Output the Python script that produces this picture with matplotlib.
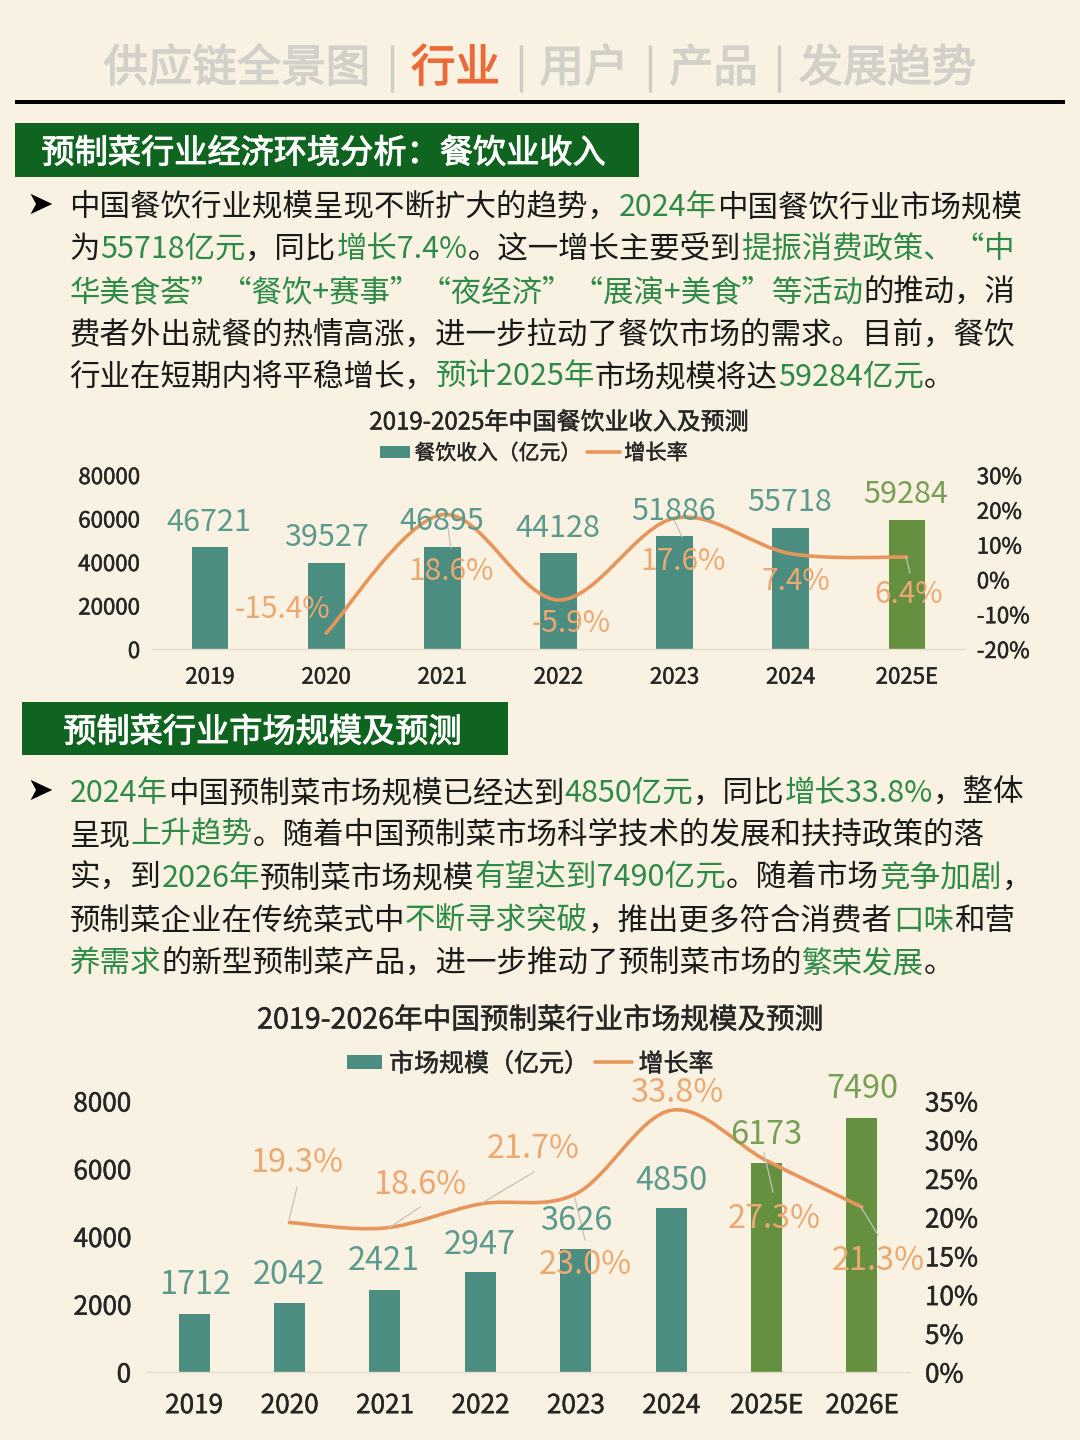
import matplotlib
matplotlib.use("Agg")
import matplotlib.pyplot as plt
import matplotlib.patheffects as pe
from matplotlib.font_manager import FontProperties
from matplotlib.patches import PathPatch, Rectangle
from matplotlib.path import Path

FONT = ['Noto Sans CJK SC', 'DejaVu Sans']
plt.rcParams['font.family'] = FONT
plt.rcParams['axes.unicode_minus'] = False

# ---------- data ----------
years_a = ['2019', '2020', '2021', '2022', '2023', '2024', '2025E']
revenue = [46721, 39527, 46895, 44128, 51886, 55718, 59284]
revenue_growth = [None, -15.4, 18.6, -5.9, 17.6, 7.4, 6.4]
left_ticks_a = [0, 20000, 40000, 60000, 80000]
right_ticks_a = [-20, -10, 0, 10, 20, 30]

years_b = ['2019', '2020', '2021', '2022', '2023', '2024', '2025E', '2026E']
market = [1712, 2042, 2421, 2947, 3626, 4850, 6173, 7490]
market_growth = [None, 19.3, 18.6, 21.7, 23.0, 33.8, 27.3, 21.3]
left_ticks_b = [0, 2000, 4000, 6000, 8000]
right_ticks_b = [0, 5, 10, 15, 20, 25, 30, 35]

BG = '#f9f2e2'
TEAL = '#4b8d80'
LEAF = '#64903f'
ORANGE = '#e7955a'
LBL_TEAL = '#5d9a8e'
LBL_LEAF = '#78a055'
LBL_ORANGE = '#eba871'
GREEN_TXT = '#2e8b47'
INK = '#1a1a1a'
DARK = '#262626'
HEADER = '#d3d0ca'
ACTIVE = '#ea6a38'
BAND = '#0f651f'

W, H = 1080, 1440
fig = plt.figure(figsize=(W / 100, H / 100), dpi=100, facecolor=BG)
renderer = fig.canvas.get_renderer()

overlay = fig.add_axes([0, 0, 1, 1], zorder=10)
overlay.set_xlim(0, W)
overlay.set_ylim(H, 0)
overlay.axis('off')
overlay.patch.set_alpha(0)


def heavy(artist, color, width):
    artist.set_path_effects([pe.withStroke(linewidth=width, foreground=color)])
    return artist


def ctext(x, y, s, color, size, stroke=0.0, dy=2.5):
    t = overlay.text(x, y + dy, s, color=color, fontsize=size, ha='center', va='center')
    if stroke:
        heavy(t, color, stroke)
    return t


def advance(s, size):
    fp = FontProperties(family=FONT, size=size)
    a = renderer.get_text_width_height_descent('中' + s + '中', fp, False)[0]
    b = renderer.get_text_width_height_descent('中中', fp, False)[0]
    return a - b


def rich_line(segments, x0, x1, yc, base=21.3):
    total = sum(advance(t, base) for t, _ in segments)
    size = base * (x1 - x0) / total
    x = x0
    for t, c in segments:
        overlay.text(x, yc + size * 100 / 72 * 0.36, t, color=c, fontsize=size,
                     ha='left', va='baseline')
        x += advance(t, size)


def cubic_path(xs, ys):
    """Smooth line through the given points, as Bezier control points."""
    n = len(xs)
    verts = [(xs[0], ys[0])]
    codes = [Path.MOVETO]
    for i in range(n - 1):
        p0 = (xs[max(i - 1, 0)], ys[max(i - 1, 0)])
        p1 = (xs[i], ys[i])
        p2 = (xs[i + 1], ys[i + 1])
        p3 = (xs[min(i + 2, n - 1)], ys[min(i + 2, n - 1)])
        c1 = (p1[0] + (p2[0] - p0[0]) / 6, p1[1] + (p2[1] - p0[1]) / 6)
        c2 = (p2[0] - (p3[0] - p1[0]) / 6, p2[1] - (p3[1] - p1[1]) / 6)
        verts += [c1, c2, p2]
        codes += [Path.CURVE4] * 3
    return Path(verts, codes)


def combo(box, cats, vals, growth, lticks, rticks, lmax, rlim, bar_w,
          green_from, tick_size, pad):
    x0, x1, ytop, ybot = box
    ax = fig.add_axes([x0 / W, (H - ybot) / H, (x1 - x0) / W, (ybot - ytop) / H], zorder=2)
    ax.patch.set_alpha(0)
    n = len(cats)
    colors = [LEAF if i >= green_from else TEAL for i in range(n)]
    ax.bar(range(n), vals, width=bar_w, color=colors, zorder=2)
    ax.set_xlim(-0.5, n - 0.5)
    ax.set_ylim(0, lmax)
    ax.set_xticks(range(n), cats)
    ax.set_yticks(lticks, [str(v) for v in lticks])
    for s in ['top', 'left', 'right']:
        ax.spines[s].set_visible(False)
    ax.spines['bottom'].set_color('#e3ddcf')
    ax.spines['bottom'].set_linewidth(1.0)
    ax.tick_params(axis='both', length=0, labelsize=tick_size, labelcolor=DARK)
    ax.tick_params(axis='x', pad=pad[0])
    ax.tick_params(axis='y', pad=pad[1])

    ax2 = ax.twinx()
    ax2.patch.set_alpha(0)
    ax2.set_ylim(*rlim)
    ax2.set_yticks(rticks, [f'{v}%' for v in rticks])
    for s in ax2.spines.values():
        s.set_visible(False)
    ax2.tick_params(axis='y', length=0, labelsize=tick_size, labelcolor=DARK, pad=pad[1])
    for lab in ax.get_xticklabels() + ax.get_yticklabels() + ax2.get_yticklabels():
        heavy(lab, DARK, 0.35)
    xs = [i for i, g in enumerate(growth) if g is not None]
    ys = [g for g in growth if g is not None]
    ax2.add_patch(PathPatch(cubic_path(xs, ys), fill=False, edgecolor=ORANGE,
                            linewidth=2.6, capstyle='round', zorder=3))
    return ax, ax2


def leaders(segs):
    for (xa, ya, xb, yb) in segs:
        overlay.plot([xa, xb], [ya, yb], color='#c4c2bb', lw=0.9, zorder=1)


# ---------- header ----------
hdr = [('供应链全景图', 237, HEADER), ('行业', 455.5, ACTIVE), ('用户', 584, HEADER),
       ('产品', 713.5, HEADER), ('发展趋势', 887.5, HEADER)]
for t, x, c in hdr:
    ctext(x, 65, t, c, 32, stroke=1.0, dy=3.5)
for x in [392, 521, 650, 779]:
    overlay.plot([x, x], [45, 92], color='#cfccc6', lw=2.4, solid_capstyle='butt')
overlay.add_patch(Rectangle((15, 99.5), 1050, 4, color='black', lw=0))

# ---------- section bands ----------
overlay.add_patch(Rectangle((15, 123), 624, 54, color=BAND, lw=0))
ctext(323, 151, '预制菜行业经济环境分析：餐饮业收入', 'white', 23.9, stroke=0.7)
overlay.add_patch(Rectangle((22, 702), 486, 53, color=BAND, lw=0))
ctext(262, 730, '预制菜行业市场规模及预测', 'white', 23.9, stroke=0.7)

# ---------- paragraphs ----------
K, G = INK, GREEN_TXT
para_a = [
    ([('中国餐饮行业规模呈现不断扩大的趋势，', K), ('2024年', G), ('中国餐饮行业市场规模', K)], 1022, 205),
    ([('为', K), ('55718亿元', G), ('，同比', K), ('增长7.4%', G), ('。这一增长主要受到', K), ('提振消费政策、“中', G)], 1017, 247),
    ([('华美食荟”“餐饮+赛事”“夜经济”“展演+美食”等活动', G), ('的推动，消', K)], 1018, 290),
    ([('费者外出就餐的热情高涨，进一步拉动了餐饮市场的需求。目前，餐饮', K)], 1016, 333),
    ([('行业在短期内将平稳增长，', K), ('预计2025年', G), ('市场规模将达', K), ('59284亿元', G), ('。', K)], 956, 375),
]
para_b = [
    ([('2024年', G), ('中国预制菜市场规模已经达到', K), ('4850亿元', G), ('，同比', K), ('增长33.8%', G), ('，整体', K)], 1025, 791),
    ([('呈现', K), ('上升趋势', G), ('。随着中国预制菜市场科学技术的发展和扶持政策的落', K)], 986, 833),
    ([('实，到', K), ('2026年', G), ('预制菜市场规模', K), ('有望达到7490亿元', G), ('。随着市场', K), ('竞争加剧', G), ('，', K)], 1033, 876),
    ([('预制菜企业在传统菜式中', K), ('不断寻求突破', G), ('，推出更多符合消费者', K), ('口味', G), ('和营', K)], 1016, 919),
    ([('养需求', G), ('的新型预制菜产品，进一步推动了预制菜市场的', K), ('繁荣发展', G), ('。', K)], 956, 961),
]
for segs, x1, yc in para_a + para_b:
    rich_line(segs, 69.5, x1, yc)
for y in [205, 791]:
    overlay.text(40, y, '➤', color='black', fontsize=23, family='DejaVu Sans', ha='center', va='center')

# ---------- chart A ----------
combo((152, 965, 475, 649), years_a, revenue, revenue_growth, left_ticks_a, right_ticks_a,
      80000, (-20, 30), 0.315, 6, 16, (12, 8.5))
ctext(559, 420, '2019-2025年中国餐饮业收入及预测', DARK, 17.3, stroke=0.35)
overlay.add_patch(Rectangle((380, 446), 30, 12, color=TEAL, lw=0))
ctext(498, 452, '餐饮收入（亿元）', DARK, 15, stroke=0.3, dy=1.5)
overlay.plot([587, 620], [452, 452], color=ORANGE, lw=2.6, solid_capstyle='round')
ctext(656, 452, '增长率', DARK, 15.3, stroke=0.3, dy=1.5)
leaders([(448, 528, 451, 548), (674, 520, 682, 537), (906, 557, 910, 573)])

pos_a = [(209, 520), (326, 535), (442, 519), (558, 526), (674, 509), (790, 500), (906, 492)]
for v, (x, y), c in zip(revenue, pos_a, [LBL_TEAL] * 6 + [LBL_LEAF]):
    ctext(x, y, str(v), c, 22)
pct_a = [None, (282, 607), (451, 569), (571, 621), (683, 559), (796, 579), (909, 592)]
for v, p in zip(revenue_growth, pct_a):
    if v is not None:
        ctext(p[0], p[1], f'{v}%', LBL_ORANGE, 21.5)

# ---------- chart B ----------
combo((146.3, 909.7, 1101, 1372), years_b, market, market_growth, left_ticks_b, right_ticks_b,
      8000, (0, 35), 0.325, 6, 18.8, (14.5, 11))
ctext(540, 1018, '2019-2026年中国预制菜行业市场规模及预测', DARK, 20.6, stroke=0.35)
overlay.add_patch(Rectangle((347, 1055), 35, 14, color=TEAL, lw=0))
ctext(489, 1062, '市场规模（亿元）', DARK, 18, stroke=0.3)
overlay.plot([595, 632], [1062, 1062], color=ORANGE, lw=2.6, solid_capstyle='round')
ctext(676, 1062, '增长率', DARK, 18, stroke=0.3)
leaders([(297, 1187, 289, 1220), (420, 1207, 389, 1228), (534, 1172, 482, 1203),
         (575, 1198, 585, 1240), (764, 1153, 773, 1192), (861, 1207, 878, 1235)])

pos_b = [(195, 1283), (289, 1273), (384, 1259), (480, 1242), (576, 1218), (671, 1178), (766, 1133), (862, 1087)]
for v, (x, y), c in zip(market, pos_b, [LBL_TEAL] * 6 + [LBL_LEAF] * 2):
    ctext(x, y, str(v), c, 23.4)
pct_b = [None, (297, 1161), (420, 1183), (533, 1147), (585, 1263), (677, 1090), (774, 1216), (878, 1258)]
for v, p in zip(market_growth, pct_b):
    if v is not None:
        ctext(p[0], p[1], f'{v:.1f}%', LBL_ORANGE, 23.4)

fig.savefig('out.png', dpi=100, facecolor=BG)
